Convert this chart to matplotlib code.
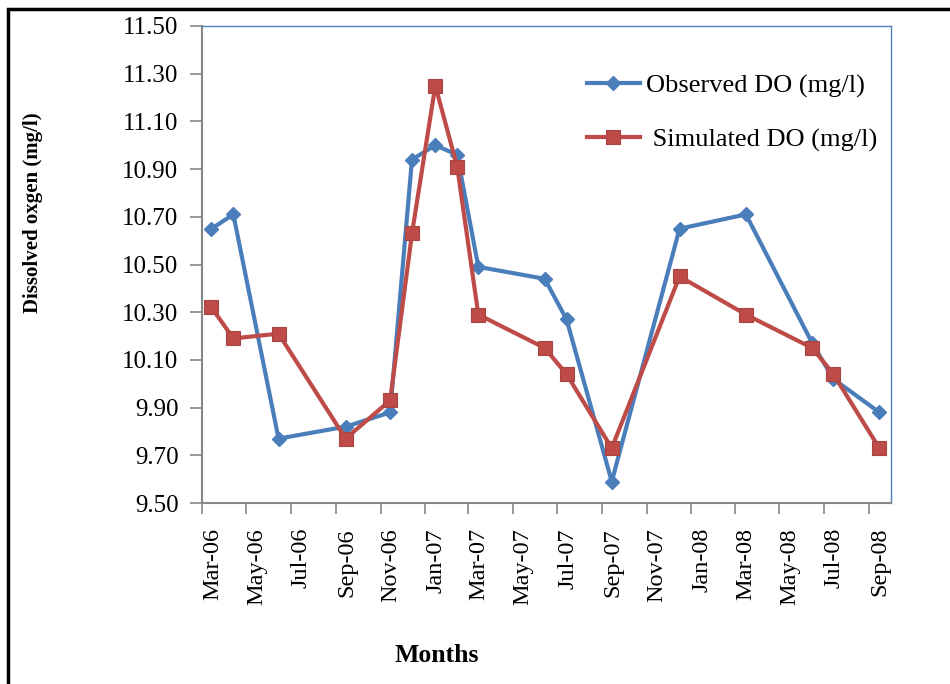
import datetime as dt

import matplotlib
matplotlib.use("Agg")
import matplotlib.pyplot as plt
import matplotlib.dates as mdates
from matplotlib.lines import Line2D

# sampling dates (mid-month)
dates = [
    dt.date(2006, 3, 14), dt.date(2006, 4, 13), dt.date(2006, 6, 14),
    dt.date(2006, 9, 14), dt.date(2006, 11, 14), dt.date(2006, 12, 14),
    dt.date(2007, 1, 15), dt.date(2007, 2, 14), dt.date(2007, 3, 15),
    dt.date(2007, 6, 14), dt.date(2007, 7, 14), dt.date(2007, 9, 14),
    dt.date(2007, 12, 16), dt.date(2008, 3, 16), dt.date(2008, 6, 15),
    dt.date(2008, 7, 14), dt.date(2008, 9, 15),
]
observed = [10.65, 10.71, 9.77, 9.82, 9.88, 10.94, 11.00, 10.96, 10.49,
            10.44, 10.27, 9.59, 10.65, 10.71, 10.17, 10.02, 9.88]
simulated = [10.32, 10.19, 10.21, 9.77, 9.93, 10.63, 11.25, 10.91, 10.29,
             10.15, 10.04, 9.73, 10.45, 10.29, 10.15, 10.04, 9.73]
y_ticks = [9.50, 9.70, 9.90, 10.10, 10.30, 10.50, 10.70, 10.90, 11.10, 11.30, 11.50]

BLUE = "#4A7EBB"
RED = "#BE4B48"
SERIF = "Liberation Serif"

plt.rcParams["font.family"] = [SERIF, "DejaVu Serif"]

fig = plt.figure(figsize=(9.5, 6.84), dpi=100)
ax = fig.add_axes([202 / 950, 1 - 503 / 684, 689 / 950, 477 / 684])

ax.plot(dates, observed, color=BLUE, lw=3, marker="D", markersize=7.5,
        markeredgecolor=BLUE, label="Observed DO (mg/l)", zorder=3)
ax.plot(dates, simulated, color=RED, lw=3, marker="s", markersize=10,
        markeredgecolor="#A84542", markeredgewidth=0.8,
        label=" Simulated DO (mg/l)", zorder=4)

ax.set_xlim(dt.date(2006, 3, 1), dt.date(2008, 10, 1))
ax.set_ylim(9.5, 11.5)
ax.set_yticks(y_ticks)
ax.set_yticklabels([f"{v:.2f}" for v in y_ticks])

ax.xaxis.set_major_locator(mdates.MonthLocator(bymonth=[1, 3, 5, 7, 9, 11]))
ax.xaxis.set_major_formatter(mdates.DateFormatter("%b-%y"))

ax.tick_params(axis="y", direction="out", length=9, width=1.2, color="#868686",
               labelsize=18, pad=8)
ax.tick_params(axis="x", direction="out", length=8, width=1.2, color="#868686",
               labelsize=17.5, pad=10)
for lab in ax.get_xticklabels():
    lab.set_rotation(90)
    lab.set_horizontalalignment("left")

for side in ("left", "bottom"):
    ax.spines[side].set_color("#868686")
    ax.spines[side].set_linewidth(1.5)
for side in ("top", "right"):
    ax.spines[side].set_color("#4F81BD")
    ax.spines[side].set_linewidth(1.0)

leg = ax.legend(loc="upper left", bbox_to_anchor=((587 - 202) / 689, (503 - 74) / 477),
                frameon=False, fontsize=19, handlelength=2.0, handletextpad=0.25,
                labelspacing=1.15, borderpad=0, borderaxespad=0)

# axis titles
fig.text(33 / 950, 1 - 213 / 684, "Dissolved oxgen (mg/l)", rotation=90,
         ha="center", va="center", fontsize=15, fontweight="bold")
fig.text(437 / 950, 1 - 655 / 684, "Months", ha="center", va="center",
         fontsize=18.5, fontweight="bold")

# outer frame (top and left edges)
fig.add_artist(Line2D([8 / 950, 8 / 950, 1.0], [0.0, 1 - 9 / 684, 1 - 9 / 684],
                      transform=fig.transFigure, color="black", lw=2.5,
                      solid_joinstyle="miter"))

fig.savefig("out.png", dpi=100)
